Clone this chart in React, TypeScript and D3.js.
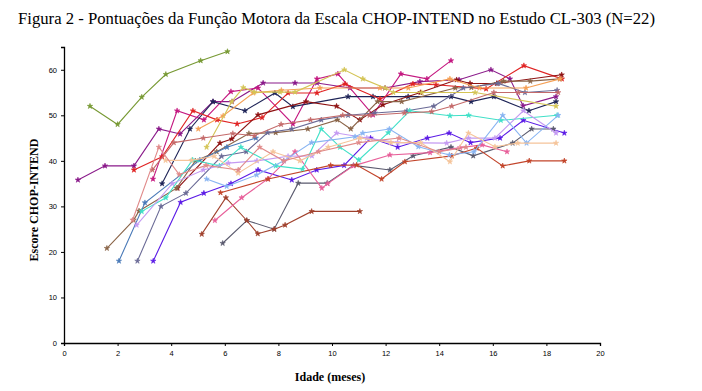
import { useEffect, useRef } from "react";
import * as d3 from "d3";

type Pt = [number, number];

const title = "Figura 2 - Pontuações da Função Motora da Escala CHOP-INTEND no Estudo CL-303 (N=22)";
const xLabel = "Idade (meses)";
const yLabel = "Escore CHOP-INTEND";
const xTicks = [0, 2, 4, 6, 8, 10, 12, 14, 16, 18, 20];
const yTicks = [0, 10, 20, 30, 40, 50, 60];

// one array per patient: [idade (meses), escore]
const p01: Pt[] = [[0.97, 52], [2, 48], [2.9, 54], [3.8, 59], [5.1, 62], [6.1, 64]];
const p02: Pt[] = [[0.52, 35.8], [1.53, 38.9], [2.61, 38.9], [3.54, 47], [4.33, 45.9], [5.56, 53], [6.27, 53], [7.43, 57.1], [8.62, 57.1], [9.44, 57.1], [10.67, 56], [11.98, 56], [13.28, 57.4], [14.74, 57.8], [15.93, 60], [16.64, 58], [17.13, 52.1], [18.36, 54.1]];
const p03: Pt[] = [[3.32, 36], [4.22, 51], [5.22, 49], [6.23, 55.2], [7.24, 56], [8.54, 48.1], [9.44, 58], [10.22, 59.1], [11.53, 50.1], [12.57, 59.1], [13.54, 58], [14.44, 62]];
const p04: Pt[] = [[3.66, 35], [4.7, 47], [5.56, 53], [6.75, 51], [7.87, 54.9], [8.54, 51.9], [10.6, 54.1], [11.53, 54.1], [12.84, 54.1], [14.44, 54.1], [15.19, 53], [16.04, 54.1], [17.35, 51], [18.36, 53]];
const p05: Pt[] = [[2.61, 38], [3.66, 40.9], [4.81, 51], [5.71, 49], [6.46, 48.1], [7.39, 49.5], [8.36, 54.9], [9.44, 54.9], [10.49, 56.9], [11.79, 53.6], [13.02, 56.9], [13.88, 56.7], [15.75, 55.8], [17.16, 60.9], [18.58, 58]];
const p06: Pt[] = [[4.24, 34], [5.82, 43.9], [6.26, 44.8], [7.24, 50.1], [9.03, 53], [10.17, 52], [11.04, 49], [11.9, 52.3], [13.3, 55], [14.65, 57.8], [15.15, 57], [16.15, 57], [18.57, 58.9]];
const p07: Pt[] = [[1.6, 20.8], [2.6, 27], [2.8, 29], [4.2, 34], [4.9, 40], [5.7, 42], [6.9, 46], [7.9, 46.2], [9.1, 47], [10.2, 49], [10.7, 47], [11.7, 53], [12.6, 53], [14.6, 56], [15.2, 56.1], [16.4, 57.5], [17.4, 57.5], [18.5, 58]];
const p08: Pt[] = [[2.05, 18], [3.02, 30.8], [5.07, 40.2], [6.08, 43], [7.16, 45]];
const p09: Pt[] = [[2.74, 18], [3.62, 30], [4.55, 32.9], [5.88, 41], [6.8, 42], [7.6, 46.2], [8.5, 47], [9.6, 49], [10.6, 50], [11.6, 50.5], [12.8, 51], [13.8, 52], [14.9, 56], [16.2, 57], [17.2, 55], [18.4, 55.5]];
const p10: Pt[] = [[3.33, 18], [4.35, 30.9], [5.22, 32.9], [6.23, 35], [7.24, 38], [8.5, 35.8], [9.43, 38], [10.45, 39], [11.44, 45], [12.45, 43], [13.56, 45], [14.37, 46.1], [15.17, 44], [16.27, 45], [17.14, 48.9], [18.67, 46.1]];
const p11: Pt[] = [[5.92, 21.9], [6.82, 26.9], [7.84, 25], [8.74, 35.1], [9.82, 35.1], [10.8, 39], [12.16, 38], [13.03, 41.1], [14.44, 43], [15.27, 41.1], [16.74, 43.9], [17.45, 47], [18.26, 47]];
const p12: Pt[] = [[5.14, 23.9], [6.04, 31.9], [6.82, 26.9], [7.23, 24], [7.85, 25], [8.25, 25.9], [9.24, 28.9], [11.04, 28.9]];
const p13: Pt[] = [[5.63, 26.9], [6.63, 31.9], [7.6, 36], [8.62, 42], [9.62, 34], [9.84, 35], [10.8, 38.9], [12.16, 41.3], [13.66, 41.8], [14.78, 42.9], [15.6, 43.5], [16.53, 42]];
const p14: Pt[] = [[5.84, 33], [7.62, 36], [9.95, 39], [10.92, 39.1], [11.85, 36], [12.72, 39.8], [14.47, 41.1], [15.4, 42.8], [16.37, 38.9], [17.36, 40], [18.67, 40]];
const p15: Pt[] = [[2.9, 28.9], [3.8, 31.9], [4.8, 40.2], [5.8, 38.9], [6.6, 43], [7.9, 38.9], [8.9, 38.2], [9.6, 47], [10.3, 43], [11.0, 40.2], [12.1, 46.2], [12.9, 51], [14.4, 49.9], [15.1, 50], [16.3, 48.9], [18.4, 50]];
const p16: Pt[] = [[2.71, 25.9], [4.04, 35], [5.2, 38], [6.13, 39.5], [7.2, 40], [8.36, 41], [9.25, 41.1], [10.17, 46.1], [11.3, 45], [12.45, 44], [14.28, 43.9], [15.09, 45], [16.08, 45], [17.14, 51], [18.36, 46.1]];
const p17: Pt[] = [[5.32, 36], [6.07, 34.4], [7.19, 36.9], [8.2, 40], [9.24, 44], [10.86, 45.3], [11.15, 46.1], [12.14, 47], [13.22, 43.1], [14.38, 41.3], [15.3, 42], [16.37, 50], [17.26, 43.9], [18.44, 50]];
const p18: Pt[] = [[3.79, 40.1], [4.76, 40.1], [5.6, 41], [6.5, 37.3], [7.8, 42], [8.8, 40], [9.86, 43], [11.04, 45], [12.2, 44], [13.3, 44], [14.4, 39.8], [15.09, 46.1], [16.08, 43.1], [16.93, 43.9], [18.36, 43.9]];
const p19: Pt[] = [[5.01, 47], [5.94, 49.9], [7.06, 54.9], [8.11, 55.5], [9.55, 56], [11.79, 56], [12.85, 56], [14.4, 58], [15.5, 56], [17.24, 56], [18.51, 58]];
const p20: Pt[] = [[5.32, 43], [6.26, 53], [6.69, 56.1], [7.1, 55.1], [8.06, 55.1], [8.62, 55.1], [10.46, 60], [11.15, 58], [11.98, 56], [12.29, 55], [13.35, 55], [15.34, 55], [18.36, 52]];
const p21: Pt[] = [[3.3, 38], [4.1, 44], [5.2, 45], [6.3, 46], [7.1, 45.5], [8.1, 48], [9.2, 49], [10.4, 50], [11.4, 50], [12.7, 50.5], [13.72, 50.8], [14.47, 52], [16.04, 55], [16.95, 55], [18.44, 55]];
const p22: Pt[] = [[2.56, 27], [3.54, 43], [4.3, 37], [5.3, 39], [6.5, 38], [7.3, 43], [8.2, 40], [9.5, 42], [11, 44], [12.5, 45], [14, 42], [15, 43]];

const patients = [p01, p02, p03, p04, p05, p06, p07, p08, p09, p10, p11, p12, p13, p14, p15, p16, p17, p18, p19, p20, p21, p22];
const colors = [
    "#779933", "#8a1a8a", "#c41880", "#1e2457", "#e02424", "#8e1212", "#8a6448", "#4a7ab8",
    "#6a6a96", "#5a1ae6", "#5a5a6e", "#a0402c", "#e8609a", "#c2442a", "#40e0c8", "#c49af2",
    "#88b4f2", "#f5c49a", "#f5a055", "#d4c455", "#c46a6a", "#e08a8a",
];

export default function App() {
    const svgRef = useRef<SVGSVGElement | null>(null);

    useEffect(() => {
        if (!svgRef.current) return;
        const svg = d3.select(svgRef.current);
        svg.selectAll("*").remove();

        const x = d3.scaleLinear().domain([0, 20]).range([64, 600]);
        const y = d3.scaleLinear().domain([0, 65]).range([343, 47]);

        svg.append("text")
            .attr("x", 18).attr("y", 24)
            .attr("font-family", "Liberation Serif, serif")
            .attr("font-size", 17)
            .attr("textLength", 637)
            .attr("lengthAdjust", "spacingAndGlyphs")
            .text(title);

        // series
        const line = d3.line<Pt>().x((d) => x(d[0])).y((d) => y(d[1]));
        const star = d3.symbol().type(d3.symbolStar).size(9);
        patients.forEach((pts, i) => {
            const g = svg.append("g");
            g.append("path")
                .datum(pts)
                .attr("fill", "none")
                .attr("stroke", colors[i])
                .attr("stroke-width", 1.1)
                .attr("d", line);
            g.selectAll("path.m")
                .data(pts)
                .join("path")
                .attr("class", "m")
                .attr("transform", (d) => `translate(${x(d[0])},${y(d[1])})`)
                .attr("fill", colors[i])
                .attr("stroke", colors[i])
                .attr("stroke-width", 0.6)
                .attr("d", star);
        });

        // axes
        const ax = svg.append("g")
            .attr("transform", `translate(0,${y(0)})`)
            .call(d3.axisBottom(x).tickValues(xTicks).tickSize(3).tickPadding(5));
        const ay = svg.append("g")
            .attr("transform", `translate(${x(0)},0)`)
            .call(d3.axisLeft(y).tickValues(yTicks).tickSize(3).tickPadding(4));
        [ax, ay].forEach((a) => {
            a.select(".domain").attr("stroke", "#000").attr("stroke-width", 1.3);
            a.selectAll(".tick line").attr("stroke", "#000");
            a.selectAll(".tick text")
                .attr("font-family", "Liberation Sans, Arial, sans-serif")
                .attr("font-size", 7.5)
                .attr("fill", "#000");
        });

        svg.append("text")
            .attr("x", 330).attr("y", 381)
            .attr("text-anchor", "middle")
            .attr("font-family", "Liberation Serif, serif")
            .attr("font-weight", "bold")
            .attr("font-size", 12)
            .text(xLabel);

        svg.append("text")
            .attr("transform", "translate(38,200) rotate(-90)")
            .attr("text-anchor", "middle")
            .attr("font-family", "Liberation Serif, serif")
            .attr("font-weight", "bold")
            .attr("font-size", 12)
            .text(yLabel);
    }, []);

    return (
        <svg
            ref={svgRef}
            width={702}
            height={391}
            style={{ position: "absolute", left: 0, top: 0, background: "#fff" }}
        ></svg>
    );
}
